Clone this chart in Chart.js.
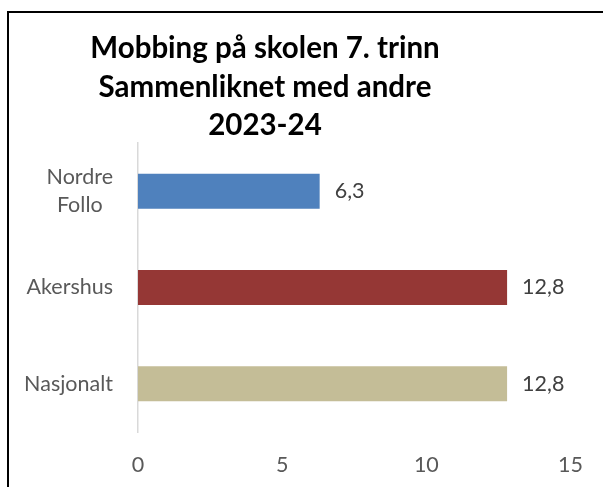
<!DOCTYPE html>
<html>
<head>
<meta charset="utf-8">
<script src="https://cdn.jsdelivr.net/npm/chart.js@4"></script>
<style>
  html, body { margin: 0; padding: 0; background: #fff; overflow: hidden; }
  #wrap { position: relative; width: 603px; height: 487px; }
  #c { position: absolute; left: 0; top: 0; }
  #frame { position: absolute; left: 7px; top: 11px; width: 610px; height: 490px;
           border-top: 2px solid #000; border-left: 2px solid #000; pointer-events: none; }
</style>
</head>
<body>
<div id="wrap">
  <canvas id="c" width="603" height="487"></canvas>
  <div id="frame"></div>
</div>
<script>
const titleLines = ["Mobbing på skolen 7. trinn", "Sammenliknet med andre", "2023-24"];
const categories = [["Nordre", "Follo"], ["Akershus"], ["Nasjonalt"]];
const values = [6.3, 12.8, 12.8];
const barColors = ["#4F81BD", "#953735", "#C4BD97"];
const xTicks = [0, 5, 10, 15];

const FONT = "Lato, 'Open Sans', sans-serif";

const titlePlugin = {
  id: 'customTitle',
  afterDraw(chart) {
    const ctx = chart.ctx;
    ctx.save();
    ctx.fillStyle = '#000';
    ctx.font = "bold 29.5px " + FONT;
    ctx.textAlign = 'center';
    ctx.textBaseline = 'alphabetic';
    titleLines.forEach((t, i) => ctx.fillText(t, 265, 58 + i * 38.5));
    ctx.restore();
  }
};

const catLabelPlugin = {
  id: 'catLabels',
  afterDraw(chart) {
    const ctx = chart.ctx;
    const yScale = chart.scales.y;
    ctx.save();
    ctx.font = "21.5px " + FONT;
    ctx.fillStyle = '#595959';
    ctx.textBaseline = 'middle';
    ctx.textAlign = 'center';
    const right = 113;
    const lh = 28;
    categories.forEach((lines, i) => {
      const yc = yScale.getPixelForValue(i);
      const w = Math.max(...lines.map(l => ctx.measureText(l).width));
      const cx = right - w / 2;
      const y0 = yc - (lines.length - 1) * lh / 2;
      lines.forEach((l, j) => ctx.fillText(l, cx, y0 + j * lh));
    });
    ctx.restore();
  }
};

const dataLabelPlugin = {
  id: 'dataLabels',
  afterDatasetsDraw(chart) {
    const ctx = chart.ctx;
    const meta = chart.getDatasetMeta(0);
    ctx.save();
    ctx.font = "21.5px " + FONT;
    ctx.fillStyle = '#404040';
    ctx.textBaseline = 'middle';
    ctx.textAlign = 'left';
    meta.data.forEach((bar, i) => {
      const txt = values[i].toFixed(1).replace('.', ',');
      ctx.fillText(txt, bar.x + 15, bar.y);
    });
    ctx.restore();
  }
};

new Chart(document.getElementById('c'), {
  type: 'bar',
  data: {
    labels: categories.map(c => c.join(' ')),
    datasets: [{
      data: values,
      backgroundColor: barColors,
      borderWidth: 0,
      barPercentage: 0.363,
      categoryPercentage: 1.0
    }]
  },
  options: {
    indexAxis: 'y',
    responsive: false,
    animation: false,
    devicePixelRatio: 1,
    layout: { padding: { left: 138, top: 143, right: 28, bottom: 10 } },
    plugins: {
      legend: { display: false },
      title: { display: false },
      tooltip: { enabled: false }
    },
    scales: {
      x: {
        min: 0, max: 15,
        afterBuildTicks(axis) { axis.ticks = xTicks.map(v => ({ value: v })); },
        afterFit(axis) { axis.height = 45; },
        grid: { display: false, drawTicks: false },
        border: { display: false },
        ticks: {
          font: { family: FONT, size: 21.5 },
          color: '#595959',
          padding: 20,
          maxRotation: 0
        }
      },
      y: {
        grid: { display: false, drawTicks: false },
        border: { display: true, color: '#D9D9D9', width: 1.5 },
        ticks: { display: false }
      }
    }
  },
  plugins: [titlePlugin, catLabelPlugin, dataLabelPlugin]
});
</script>
</body>
</html>
